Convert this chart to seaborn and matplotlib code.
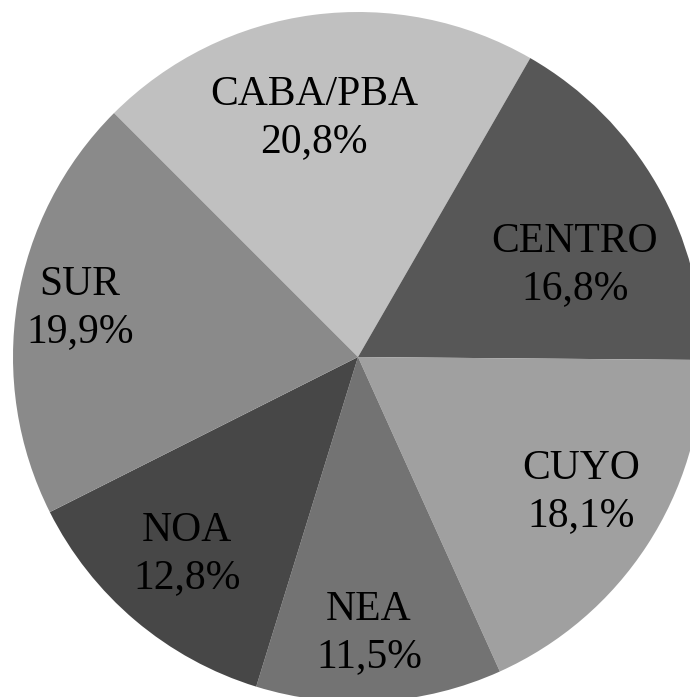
import matplotlib
matplotlib.use("Agg")
import matplotlib.pyplot as plt
import seaborn as sns

# data
regions = ["CABA/PBA", "CENTRO", "CUYO", "NEA", "NOA", "SUR"]
shares = [20.8, 16.8, 18.1, 11.5, 12.8, 19.9]
share_labels = ["20,8%", "16,8%", "18,1%", "11,5%", "12,8%", "19,9%"]
slice_colors = ["#c0c0c0", "#575757", "#a0a0a0", "#737373", "#474747", "#8a8a8a"]

# label block centres in pixels (x, y from top-left), like Excel "best fit"
label_px = [(314, 118), (575, 265), (581, 492), (369, 633), (187, 554), (80, 308)]

sns.set_theme(style="white")
plt.rcParams['font.family'] = ['Liberation Serif', 'DejaVu Serif']

W, H = 690, 697
cx, cy, r = 358, 357, 345

fig = plt.figure(figsize=(W / 100, H / 100), dpi=100)
ax = fig.add_axes([0, 0, 1, 1])

palette = sns.color_palette(slice_colors)
wedges, _ = ax.pie(shares, colors=palette, startangle=135, counterclock=False,
                   radius=1.0, center=(0, 0), wedgeprops=dict(linewidth=0))

for name, pct, (px, py) in zip(regions, share_labels, label_px):
    x = (px - cx) / r
    y = (cy - py) / r
    ax.text(x, y, f"{name}\n{pct}", ha="center", va="center",
            fontsize=30, linespacing=1.28, color="black")

ax.set_xlim(-cx / r, (W - cx) / r)
ax.set_ylim(-(H - cy) / r, cy / r)
ax.set_aspect("equal")
ax.axis("off")

fig.savefig("out.png", dpi=100)
